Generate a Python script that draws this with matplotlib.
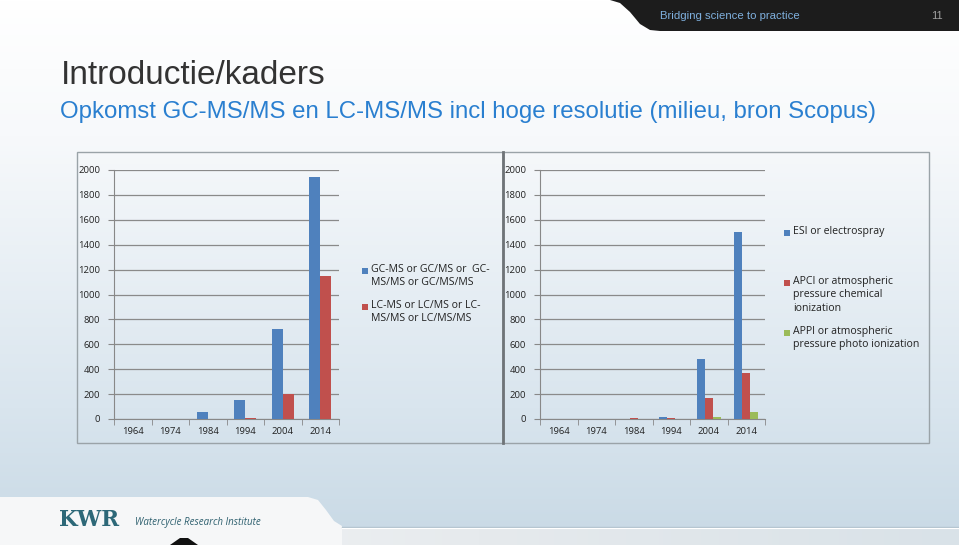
import numpy as np
import matplotlib
matplotlib.use("Agg")
import matplotlib.pyplot as plt
from matplotlib.patches import Rectangle, Polygon
from matplotlib.colors import LinearSegmentedColormap

# ---------------- data ----------------
years = ["1964", "1974", "1984", "1994", "2004", "2014"]
gc_ms = [0, 0, 58, 155, 720, 1945]
lc_ms = [0, 0, 0, 5, 200, 1145]
esi = [0, 0, 0, 15, 480, 1505]
apci = [0, 0, 5, 5, 165, 370]
appi = [0, 0, 0, 0, 15, 60]
left_labels = ["GC-MS or GC/MS or  GC-\nMS/MS or GC/MS/MS",
               "LC-MS or LC/MS or LC-\nMS/MS or LC/MS/MS"]
right_labels = ["ESI or electrospray",
                "APCI or atmospheric\npressure chemical\nionization",
                "APPI or atmospheric\npressure photo ionization"]
yticks = [0, 200, 400, 600, 800, 1000, 1200, 1400, 1600, 1800, 2000]
title = "Introductie/kaders"
subtitle = "Opkomst GC-MS/MS en LC-MS/MS incl hoge resolutie (milieu, bron Scopus)"

BLUE = "#4f81bd"
RED = "#c0504d"
GREEN = "#9bbb59"

W, H = 959, 545
fig = plt.figure(figsize=(W / 100, H / 100), dpi=100)


def box(x0, y0, x1, y1):
    return [x0 / W, 1 - y1 / H, (x1 - x0) / W, (y1 - y0) / H]


# background gradient
bg = fig.add_axes([0, 0, 1, 1], zorder=-10)
grad = np.linspace(0, 1, 256)[:, None]
cmap = LinearSegmentedColormap.from_list(
    "bg", [(0, "#ffffff"), (0.25, "#f7f9fb"), (0.75, "#d9e5ee"), (1, "#c8d9e5")])
bg.imshow(grad, aspect="auto", cmap=cmap, extent=[0, W, H, 0])
bg.set_xlim(0, W)
bg.set_ylim(H, 0)
bg.axis("off")

# header bar
verts = [(610, 0), (959, 0), (959, 31), (660, 31), (650, 30), (640, 24), (630, 12), (620, 3), (610, 0)]
bg.add_patch(Polygon(verts, closed=True, facecolor="#1c1c1c", edgecolor="none"))
bg.text(660, 16, "Bridging science to practice", color="#7fb0de", fontsize=8.2,
        family="Liberation Sans", va="center", ha="left")
bg.text(943, 16, "11", color="#a0a0a0", fontsize=8, family="Liberation Sans", va="center", ha="right")

# footer shape
hgrad = np.linspace(0, 1, 256)[None, :]
fcmap = LinearSegmentedColormap.from_list("ft", ["#f6f7f8", "#e6eaed", "#d9e2e8"])
bg.imshow(hgrad, aspect="auto", cmap=fcmap, extent=[0, W, 545, 527], zorder=1)
bg.set_xlim(0, W)
bg.set_ylim(H, 0)
fverts = [(0, 497), (308, 497), (318, 500), (326, 510), (334, 521), (342, 526), (342, 545), (0, 545)]
bg.add_patch(Polygon(fverts, closed=True, facecolor="#f6f7f8", edgecolor="none", zorder=2))
bg.plot([342, 959], [526.5, 526.5], color="#b2c3cf", lw=1.0, zorder=2)
bg.plot([342, 959], [527.8, 527.8], color="#ffffff", lw=0.8, zorder=2)
bg.add_patch(Polygon([(170, 545), (180, 538), (188, 538), (198, 545)], closed=True, facecolor="#111111",
                     edgecolor="none", zorder=3))
bg.text(59, 520, "KWR", color="#2d6878", fontsize=15.5, family="DejaVu Serif", fontweight="bold",
        va="center", ha="left", zorder=3)
bg.text(135, 522, "Watercycle Research Institute", color="#2d5f6e", fontsize=7, style="italic",
        family="Open Sans", va="center", ha="left", zorder=3)

# titles
bg.text(61, 75, title, color="#333333", fontsize=24, family="Liberation Sans", va="center", ha="left")
bg.text(60, 112, subtitle, color="#2a7fd0", fontsize=17.3, family="Liberation Sans", va="center",
        ha="left")

# panels
bg.add_patch(Rectangle((77, 152), 426, 291, facecolor="none", edgecolor="#9aa3a8", lw=1.0))
bg.add_patch(Rectangle((503, 152), 426, 291, facecolor="none", edgecolor="#9aa3a8", lw=1.0))
bg.plot([502.5, 502.5], [152, 443], color="#6f7478", lw=2.0)


def make_chart(ax, series, colors, width):
    x = np.arange(len(years))
    n = len(series)
    for i, (vals, c) in enumerate(zip(series, colors)):
        off = (i - (n - 1) / 2) * width
        ax.bar(x + off, vals, width=width, color=c, zorder=3)
    ax.set_xlim(-0.5, len(years) - 0.5)
    ax.set_ylim(0, 2000)
    ax.set_yticks(yticks)
    ax.set_yticklabels([str(v) for v in yticks], fontsize=6.8, family="Open Sans", color="#222222")
    ax.set_xticks(x)
    ax.set_xticklabels(years, fontsize=6.8, family="Open Sans", color="#222222")
    ax.set_xticks(np.arange(len(years) + 1) - 0.5, minor=True)
    ax.tick_params(axis="x", which="major", length=0, pad=6)
    ax.tick_params(axis="x", which="minor", length=4, color="#888888", direction="out")
    ax.tick_params(axis="y", length=4, color="#888888", pad=6)
    ax.grid(axis="y", color="#8a8a8a", lw=0.9, zorder=0)
    ax.set_facecolor("none")
    for s in ["top", "right"]:
        ax.spines[s].set_visible(False)
    ax.spines["left"].set_color("#888888")
    ax.spines["bottom"].set_color("#888888")


axL = fig.add_axes(box(114, 170, 339, 419))
make_chart(axL, [gc_ms, lc_ms], [BLUE, RED], 0.29)
axR = fig.add_axes(box(540, 170, 765, 419))
make_chart(axR, [esi, apci, appi], [BLUE, RED, GREEN], 0.21)


def legend_item(x, y, color, label):
    bg.add_patch(Rectangle((x, y - 3), 6, 6, facecolor=color, edgecolor="none"))
    bg.text(x + 9, y - 7, label, fontsize=7.6, family="Open Sans", color="#222222",
            va="top", ha="left", linespacing=1.3)


legend_item(362, 271, BLUE, left_labels[0])
legend_item(362, 307, RED, left_labels[1])
legend_item(784, 233, BLUE, right_labels[0])
legend_item(784, 283, RED, right_labels[1])
legend_item(784, 333, GREEN, right_labels[2])

fig.savefig("out.png", dpi=100)
